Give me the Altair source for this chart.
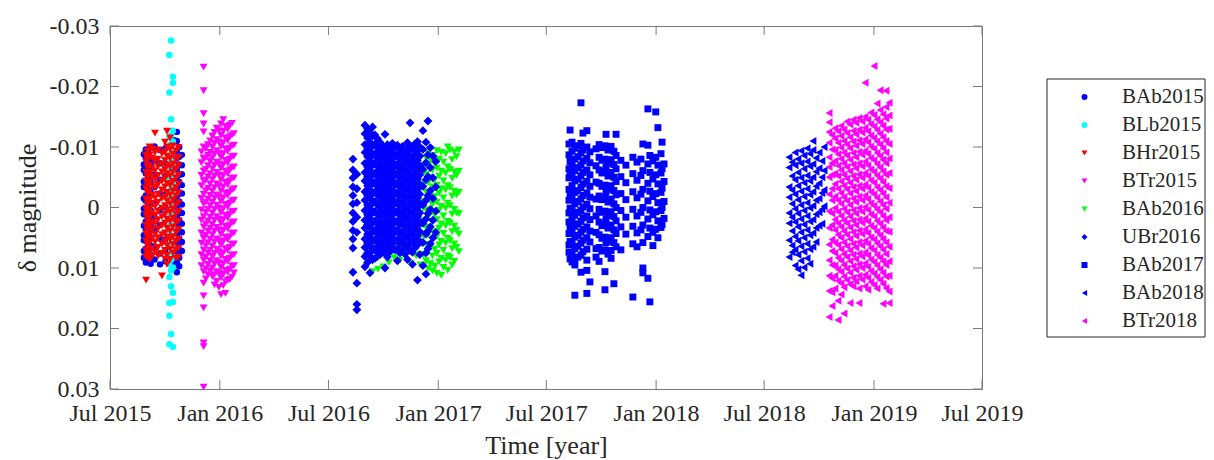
import altair as alt
import pandas as pd

# ---------------- data ----------------
# observation nights (decimal year) and delta magnitudes per night (millimag)
BAb2015_t = [2015.651, 2015.660, 2015.670, 2015.682, 2015.700, 2015.725, 2015.750,
             2015.790, 2015.802, 2015.813, 2015.825]
BAb2015_m = [
    [-8.8, -7.1, -6.2, -4.3, -3.4, -1.5, 0.2, 1.1, 3.0, 4.6, 5.4, 7.2, 8.3],
    [-9.6, -8.3, -6.5, -5.6, -3.8, -2.0, -1.1, 0.7, 2.3, 3.5, 5.0, 6.8, 7.7, 9.1],
    [-9.2, -7.5, -6.6, -4.8, -3.0, -2.2, -0.3, 1.4, 2.6, 4.1, 5.9, 7.0, 8.7],
    [-9.9, -8.0, -7.2, -5.3, -4.1, -2.5, -0.8, 0.5, 2.0, 3.1, 4.9, 6.3, 7.8, 9.3],
    [-10.1, -7.8, -5.5, -3.4, -0.7, 1.6, 3.7, 6.5, 8.6],
    [-9.5, -7.3, -4.6, -2.3, 0.4, 2.9, 5.1, 7.6, 9.4],
    [-9.8, -7.4, -5.2, -2.2, 0.0, 2.5, 5.3, 7.2, 8.9],
    [-11.1, -9.3, -7.6, -6.2, -4.4, -3.1, -1.3, 0.0, 1.8, 3.0, 4.9, 6.1, 7.9, 9.5],
    [-12.5, -11.0, -9.4, -8.2, -6.3, -5.0, -3.2, -1.9, -0.1, 1.4, 2.8, 4.6, 5.9, 7.4, 9.1, 10.7],
    [-10.0, -8.4, -7.1, -5.4, -4.2, -2.3, -1.0, 0.8, 2.1, 3.9, 5.2, 7.0, 8.3, 9.7],
    [-8.7, -7.0, -5.5, -3.7, -2.3, -0.5, 0.9, 2.7, 4.1, 5.7, 7.2],
]

BLb2015_t = [2015.768, 2015.776, 2015.784]
BLb2015_m = [
    [-25.2, -19.0, -11.6, -9.9, -8.1, -6.4, -4.5, -2.7, -0.9, 0.8, 2.6, 4.3, 6.1, 7.8, 9.4, 11.5, 15.8, 17.9, 22.6],
    [-27.6, -14.6, -12.0, -10.5, -8.8, -7.2, -5.3, -3.6, -1.8, 0.1, 1.7, 3.5, 5.2, 6.9, 8.6, 10.4, 13.0, 20.9],
    [-21.6, -20.6, -12.7, -10.9, -9.3, -7.6, -5.8, -4.1, -2.3, -0.5, 1.2, 3.0, 4.7, 6.5, 8.2, 9.9, 14.1, 15.6, 23.0],
]

BHr2015_t = [2015.661, 2015.668, 2015.677, 2015.688, 2015.702, 2015.716, 2015.734,
             2015.748, 2015.757, 2015.771, 2015.784, 2015.798, 2015.810]
BHr2015_m = [
    [-8.6, -7.5, -5.8, -4.4, -3.1, -1.4, 0.1, 1.2, 2.9, 4.3, 5.5, 7.1, 8.2, 12.0],
    [-9.3, -7.9, -6.6, -5.0, -3.5, -2.4, -0.6, 0.8, 2.2, 3.8, 5.0, 6.4, 7.9],
    [-10.0, -8.6, -7.0, -5.7, -4.2, -2.7, -1.3, 0.3, 1.6, 3.1, 4.6, 5.9, 7.4, 8.6],
    [-9.7, -8.2, -6.5, -5.1, -3.6, -2.0, -0.7, 0.9, 2.4, 3.7, 5.2, 6.8, 8.1],
    [-12.3, -9.1, -7.7, -6.1, -4.6, -3.3, -1.6, -0.2, 1.3, 2.7, 4.4, 5.7, 7.3],
    [-9.5, -8.0, -6.8, -5.3, -3.8, -2.2, -0.9, 0.6, 2.0, 3.5, 5.0, 6.6, 8.0],
    [-8.9, -7.2, -5.9, -4.4, -2.9, -1.5, 0.1, 1.5, 3.0, 4.5, 6.0, 7.6, 11.3],
    [-10.8, -9.2, -7.8, -6.3, -4.9, -3.4, -1.8, -0.3, 1.1, 2.6, 4.2, 5.6, 7.1, 8.5],
    [-12.6, -10.0, -8.5, -7.0, -5.6, -4.0, -2.5, -1.1, 0.4, 1.9, 3.4, 4.9, 6.3, 7.9, 9.4],
    [-11.5, -9.6, -8.1, -6.7, -5.2, -3.7, -2.1, -0.6, 0.8, 2.3, 3.9, 5.3, 6.9, 8.6],
    [-10.2, -8.8, -7.2, -5.8, -4.3, -2.8, -1.3, 0.2, 1.7, 3.2, 4.8, 6.1, 7.5],
    [-9.4, -7.9, -6.4, -4.9, -3.3, -1.9, -0.4, 1.1, 2.5, 4.1, 5.6, 7.0, 8.4],
    [-9.9, -8.3, -6.9, -5.4, -3.9, -2.4, -0.8, 0.7, 2.2, 3.6, 5.2, 6.7, 8.2],
]

BTr2015_t = [2015.915, 2015.925, 2015.935, 2015.945, 2015.955, 2015.965, 2015.975, 2015.985,
             2015.995, 2016.005, 2016.015, 2016.025, 2016.035, 2016.045, 2016.055, 2016.064]
BTr2015_m = [
    [-9.2, -7.4, -5.3, -3.6, -1.5, 0.4, 2.1, 4.2, 5.9, 7.8, 9.6],
    [-23.2, -19.3, -15.5, -13.8, -12.5, -10.0, -8.1, -6.0, -4.4, -2.2, -0.6, 1.5, 3.2, 5.1, 7.0,
     8.7, 10.6, 12.5, 14.6, 16.6, 22.4, 23.0, 29.7],
    [-9.7, -8.2, -6.3, -4.5, -2.8, -0.9, 0.8, 2.7, 4.6, 6.3, 8.2, 10.1, 11.8],
    [-10.4, -8.6, -6.9, -5.1, -3.2, -1.4, 0.3, 2.2, 3.9, 5.8, 7.5, 9.4, 11.1],
    [-11.0, -9.1, -7.6, -5.6, -3.9, -2.0, -0.3, 1.6, 3.4, 5.2, 7.1, 8.8, 10.5],
    [-11.8, -10.0, -8.2, -6.4, -4.6, -2.7, -0.9, 0.9, 2.8, 4.5, 6.4, 8.1, 10.0, 11.4],
    [-12.4, -10.6, -8.8, -7.0, -5.2, -3.3, -1.6, 0.3, 2.1, 3.9, 5.7, 7.6, 9.3, 11.1, 12.8],
    [-13.1, -11.2, -9.4, -7.5, -5.8, -3.9, -2.1, -0.4, 1.5, 3.3, 5.2, 6.9, 8.8, 10.6, 12.2],
    [-12.7, -10.8, -9.0, -7.2, -5.4, -3.6, -1.8, 0.1, 1.9, 3.7, 5.5, 7.3, 9.1, 10.9, 13.2],
    [-13.8, -11.9, -10.1, -8.3, -6.5, -4.6, -2.8, -1.0, 0.8, 2.6, 4.4, 6.2, 8.0, 9.9, 11.6, 14.4],
    [-14.5, -12.6, -10.7, -8.9, -7.1, -5.3, -3.4, -1.6, 0.2, 2.0, 3.8, 5.6, 7.5, 9.3, 11.0, 12.9],
    [-13.4, -11.5, -9.7, -7.8, -6.0, -4.2, -2.4, -0.5, 1.3, 3.1, 4.9, 6.8, 8.6, 10.4, 12.3, 14.2],
    [-12.9, -11.1, -9.3, -7.4, -5.6, -3.8, -2.0, -0.1, 1.7, 3.5, 5.3, 7.1, 8.9, 10.7, 12.0],
    [-13.6, -11.7, -9.8, -8.0, -6.2, -4.4, -2.5, -0.7, 1.1, 2.9, 4.8, 6.6, 8.4, 10.2, 11.9],
    [-13.9, -12.0, -10.2, -8.4, -6.6, -4.8, -2.9, -1.1, 0.7, 2.5, 4.3, 6.1, 7.9, 9.7, 11.5],
    [-12.2, -10.3, -8.5, -6.7, -4.9, -3.1, -1.2, 0.6, 2.4, 4.2, 6.0, 7.8, 9.6, 10.8],
]

BAb2016_t = [2016.700, 2016.725, 2016.750, 2016.775, 2016.800, 2016.825, 2016.850, 2016.875,
             2016.900, 2016.920, 2016.935, 2016.945, 2016.955, 2016.965, 2016.975, 2016.985,
             2016.995, 2017.005, 2017.015, 2017.025, 2017.035, 2017.045, 2017.055, 2017.065,
             2017.075, 2017.085, 2017.096]
BAb2016_m = [
    [4.5, 6.8, 8.9, 10.6],
    [3.9, 6.1, 8.4, 10.2],
    [-6.5, 5.2, 7.6, 9.8],
    [-7.8, 4.8, 7.0, 9.1],
    [-8.5, -5.9, 5.7, 8.3],
    [-9.0, -6.1, 6.6, 8.7],
    [-8.2, -5.0, 4.9, 7.4],
    [-7.1, -3.8, 6.0, 9.3],
    [-8.8, -2.6, 1.8, 5.5, 8.0],
    [-6.9, -3.2, 0.9, 4.4, 7.7, 9.5],
    [-6.8, -3.9, -1.0, 2.2, 4.9, 7.8, 9.6],
    [-8.2, -5.5, -2.6, 0.4, 3.3, 6.1, 8.8],
    [-9.0, -6.9, -4.1, -1.3, 1.6, 4.5, 7.2, 10.1],
    [-7.8, -5.0, -2.2, 0.8, 3.7, 6.4, 9.3],
    [-8.6, -6.2, -3.4, -0.5, 2.4, 5.3, 8.0, 10.5],
    [-7.3, -4.6, -1.8, 1.2, 4.0, 6.9, 9.7],
    [-9.4, -6.5, -3.7, -0.9, 2.0, 4.8, 7.6, 10.9],
    [-8.0, -5.2, -2.4, 0.5, 3.4, 6.2, 9.0],
    [-9.1, -6.0, -3.1, -0.2, 2.7, 5.6, 8.4, 11.2],
    [-7.5, -4.4, -1.6, 1.4, 4.3, 7.1, 9.9],
    [-8.9, -5.7, -2.9, 0.1, 3.0, 5.9, 8.7],
    [-10.0, -6.7, -3.6, -0.7, 2.3, 5.1, 8.0, 10.4],
    [-9.5, -6.3, -3.3, -0.3, 2.6, 5.5, 8.3],
    [-7.9, -4.8, -1.9, 1.1, 4.0, 6.8, 9.5],
    [-9.2, -5.9, -2.7, 0.3, 3.1, 6.0, 8.9],
    [-8.4, -5.3, -2.1, 0.9, 3.8, 6.6],
    [-9.5, -6.0, -2.5, 1.0, 4.4, 7.3],
]

UBr2016_t = [2016.610, 2016.628, 2016.665, 2016.677, 2016.688, 2016.700, 2016.711, 2016.722,
             2016.734, 2016.745, 2016.757, 2016.768, 2016.780, 2016.791, 2016.803, 2016.814,
             2016.826, 2016.837, 2016.849, 2016.860, 2016.872, 2016.883, 2016.894, 2016.906,
             2016.917, 2016.931, 2016.945, 2016.954, 2016.965, 2016.977, 2016.990]
UBr2016_m = [
    [-8.0, -6.2, -4.9, -3.4, -2.0, -0.6, 0.9, 2.3, 3.8, 5.2, 6.7, 10.7],
    [-5.5, -3.1, -0.8, 1.6, 4.1, 12.5, 16.0, 16.9],
    [-13.6, -12.2, -10.4, -9.1, -7.3, -5.8, -4.4, -2.6, -1.2, 0.5, 2.1, 3.4, 5.2, 6.6, 8.1, 9.8],
    [-13.0, -11.5, -9.8, -8.4, -6.7, -5.1, -3.6, -2.0, -0.4, 1.2, 2.8, 4.4, 5.9, 7.5, 9.1],
    [-12.4, -10.8, -9.3, -7.7, -6.1, -4.6, -2.9, -1.5, 0.2, 1.8, 3.3, 4.9, 6.4, 8.0, 10.8],
    [-13.3, -11.8, -10.2, -8.6, -7.0, -5.4, -3.9, -2.3, -0.7, 0.9, 2.5, 4.0, 5.6, 7.1, 8.6],
    [-12.0, -10.5, -8.9, -7.4, -5.7, -4.2, -2.6, -1.0, 0.6, 2.2, 3.7, 5.3, 6.8, 8.4],
    [-11.4, -9.9, -8.3, -6.8, -5.2, -3.6, -2.1, -0.5, 1.1, 2.7, 4.3, 5.8, 7.4],
    [-10.8, -9.3, -7.8, -6.2, -4.7, -3.1, -1.6, 0.0, 1.6, 3.2, 4.7, 6.3, 7.8],
    [-10.2, -8.7, -7.1, -5.6, -4.0, -2.5, -0.9, 0.7, 2.3, 3.8, 5.4, 6.9],
    [-12.1, -9.6, -8.1, -6.5, -5.0, -3.4, -1.9, -0.3, 1.3, 2.9, 4.4, 6.0, 7.5, 10.0],
    [-10.4, -8.9, -7.4, -5.8, -4.3, -2.7, -1.2, 0.4, 2.0, 3.5, 5.1, 6.6, 8.2],
    [-9.8, -8.3, -6.7, -5.2, -3.6, -2.1, -0.5, 1.0, 2.6, 4.2, 5.7, 7.3],
    [-10.6, -9.0, -7.5, -5.9, -4.4, -2.8, -1.3, 0.3, 1.9, 3.4, 5.0, 6.5],
    [-9.9, -8.4, -6.8, -5.3, -3.7, -2.2, -0.6, 0.9, 2.5, 4.1, 5.6, 7.0],
    [-10.3, -8.8, -7.2, -5.6, -4.1, -2.5, -1.0, 0.6, 2.2, 3.7, 5.3, 6.8, 8.8],
    [-9.6, -8.0, -6.5, -4.9, -3.4, -1.8, -0.3, 1.3, 2.8, 4.4, 5.9, 7.5],
    [-10.1, -8.6, -7.0, -5.5, -3.9, -2.4, -0.8, 0.7, 2.3, 3.9, 5.4, 7.0],
    [-9.4, -7.9, -6.3, -4.8, -3.2, -1.7, -0.1, 1.4, 3.0, 4.6, 6.1, 7.7],
    [-10.7, -9.2, -7.6, -6.1, -4.5, -3.0, -1.4, 0.2, 1.7, 3.3, 4.8, 6.4, 8.6],
    [-14.0, -10.0, -8.5, -6.9, -5.4, -3.8, -2.3, -0.7, 0.8, 2.4, 4.0, 5.5, 7.1],
    [-9.7, -8.1, -6.6, -5.0, -3.5, -1.9, -0.4, 1.2, 2.7, 4.3, 5.8, 7.4, 9.4],
    [-10.5, -8.9, -7.4, -5.8, -4.3, -2.7, -1.1, 0.4, 2.0, 3.5, 5.1, 6.7],
    [-10.9, -9.4, -7.8, -6.3, -4.7, -3.1, -1.6, 0.0, 1.5, 3.1, 4.7, 6.2, 12.0],
    [-10.0, -8.5, -6.9, -5.4, -3.8, -2.2, -0.7, 0.9, 2.4, 4.0, 5.6, 7.8],
    [-12.7, -9.6, -6.3, -3.5, -0.4, 2.6, 5.8, 9.6],
    [-10.8, -7.4, -4.6, -1.2, 1.9, 4.4, 7.5, 11.0],
    [-14.3, -8.7, -5.1, -2.0, 1.0, 3.9, 6.8],
    [-9.9, -6.6, -2.8, 0.3, 3.2, 6.0],
    [-8.5, -4.9, -1.5, 2.1, 5.0],
    [-7.6, -3.4, 0.6, 4.1],
]

BAb2017_t = [2017.601, 2017.606, 2017.615, 2017.628, 2017.642, 2017.656, 2017.665, 2017.683,
             2017.697, 2017.725, 2017.739, 2017.752, 2017.766, 2017.771, 2017.780, 2017.794,
             2017.807, 2017.817, 2017.839, 2017.862, 2017.894, 2017.913, 2017.931, 2017.940,
             2017.963, 2017.972, 2017.986, 2017.999, 2018.009, 2018.023, 2018.028, 2018.037]
BAb2017_m = [
    [-10.5, -8.7, -6.4, -4.9, -3.0, -1.2, 0.9, 2.4, 4.3, 6.2, 7.4],
    [-12.8, -7.6, -5.5, -2.1, 0.1, 3.3, 5.6, 8.5],
    [-10.8, -9.3, -7.2, -5.1, -3.6, -1.5, 0.4, 2.0, 4.0, 5.8, 7.7, 9.0],
    [-9.8, -8.0, -6.1, -4.4, -2.5, -0.6, 1.3, 3.1, 4.9, 6.8, 8.6, 9.5, 14.5],
    [-10.2, -8.4, -6.6, -4.7, -2.8, -1.0, 0.8, 2.7, 4.6, 6.4, 8.2],
    [-17.3, -10.6, -9.0, -7.0, -5.2, -3.3, -1.4, 0.5, 2.3, 4.1, 5.9, 7.9, 10.7],
    [-12.3, -9.5, -7.7, -5.8, -3.9, -2.0, -0.1, 1.7, 3.6, 5.4, 7.3],
    [-12.7, -10.0, -8.1, -6.2, -4.3, -2.4, -0.5, 1.4, 3.2, 5.0, 6.9, 8.7, 10.4, 14.2],
    [-9.2, -7.4, -5.4, -3.5, -1.7, 0.2, 2.0, 3.9, 5.7, 12.3],
    [-9.7, -6.9, -4.2, -1.4, 1.4, 4.1, 6.8, 8.2],
    [-10.4, -8.3, -6.2, -4.0, -1.9, 0.3, 2.4, 4.5, 6.6, 8.9],
    [-9.9, -7.8, -5.7, -3.5, -1.3, 0.8, 3.0, 5.1, 7.2],
    [-10.2, -8.0, -5.9, -3.7, -1.6, 0.6, 2.7, 4.9, 7.0, 10.6, 13.6],
    [-12.1, -6.7, -2.6, 1.9, 5.8],
    [-9.5, -7.3, -5.2, -3.0, -0.9, 1.3, 3.4, 5.6, 7.7],
    [-10.1, -7.9, -5.8, -3.6, -1.4, 0.7, 2.9, 5.0, 7.1, 8.4],
    [-9.3, -7.1, -5.0, -2.8, -0.6, 1.5, 3.7, 5.8, 12.6],
    [-12.1, -8.6, -6.4, -4.3, -2.1, 0.0, 2.2, 4.3, 6.5],
    [-7.8, -5.1, -2.3, 0.5, 3.2, 7.0],
    [-7.0, -4.1, -1.3, 1.6, 4.4],
    [-8.3, -5.6, -2.6, 0.3, 3.1, 6.0, 14.8],
    [-7.5, -4.5, -1.6, 1.4, 4.2, 6.5],
    [-8.0, -5.3, -2.2, 0.8, 3.7],
    [-10.5, -6.1, -3.0, 0.0, 2.9, 5.8, 10.0, 10.8],
    [-16.3, -10.3, -7.2, -4.0, -1.1, 1.9, 4.8, 11.7],
    [-8.6, -5.8, -2.7, 0.4, 3.4, 15.6],
    [-7.7, -4.7, -1.8, 1.2, 4.1, 6.3],
    [-15.8, -8.3, -5.4, -2.3, 0.7, 3.6],
    [-13.2, -7.0, -3.9, -0.8, 2.2, 5.0],
    [-8.9, -5.7, -2.5, 0.5, 3.3],
    [-10.8, -6.4, -3.2, 0.0, 2.8],
    [-7.2, -4.3, -1.0, 1.8],
]

BAb2018_t = [2018.610, 2018.624, 2018.638, 2018.651, 2018.665, 2018.679, 2018.693,
             2018.706, 2018.720, 2018.734, 2018.748, 2018.761, 2018.771]
BAb2018_m = [
    [-8.3, -6.6, -3.4, -1.7, 0.9, 2.6, 5.4, 8.2],
    [-7.5, -5.2, -2.9, -0.6, 1.6, 3.9, 6.3, 7.4],
    [-9.1, -7.0, -4.6, -2.2, 0.2, 2.4, 4.8, 7.0, 9.6],
    [-8.0, -5.8, -3.6, -1.3, 1.0, 3.2, 5.5, 7.8, 10.2],
    [-9.4, -7.3, -4.9, -2.7, -0.4, 1.9, 4.1, 6.4, 8.8, 11.2],
    [-8.6, -6.4, -4.1, -1.8, 0.5, 2.8, 5.0, 7.3, 9.9],
    [-9.8, -7.6, -5.3, -3.1, -0.8, 1.4, 3.7, 6.0, 8.4],
    [-8.9, -6.8, -4.4, -2.1, 0.1, 2.3, 4.6, 6.9, 9.3],
    [-11.0, -9.5, -7.2, -5.0, -2.6, -0.3, 2.0, 4.2, 6.5],
    [-8.2, -5.9, -3.5, -1.2, 1.1, 3.4, 5.7],
    [-9.1, -6.5, -4.0, -1.5, 0.8, 3.0],
    [-7.7, -5.0, -2.4, 0.3, 2.7],
    [-10.0, -6.1, -2.9, -0.2],
]

BTr2018_t = [2018.794, 2018.807, 2018.821, 2018.835, 2018.849, 2018.862, 2018.876, 2018.890,
             2018.904, 2018.917, 2018.931, 2018.945, 2018.959, 2018.972, 2018.986, 2019.000,
             2019.014, 2019.028, 2019.041, 2019.055, 2019.069]
BTr2018_m = [
    [-15.6, -14.1, -12.5, -10.7, -8.3, -6.7, -5.0, -2.2, 0.6, 3.4, 6.1, 8.7, 11.3, 13.8, 18.1],
    [-12.0, -9.6, -7.3, -5.4, -3.1, -1.2, 1.0, 2.9, 5.3, 7.2, 9.5, 11.7, 14.0, 16.3],
    [-13.1, -11.4, -9.5, -7.7, -5.6, -3.9, -1.8, 0.1, 2.0, 3.7, 5.8, 7.5, 9.6, 11.3, 13.4],
    [-12.6, -10.7, -8.8, -6.9, -5.2, -3.1, -1.2, 0.7, 2.6, 4.5, 6.2, 8.3, 10.2, 12.1, 15.4, 18.6],
    [-13.5, -11.8, -9.9, -8.0, -6.2, -4.3, -2.4, -0.6, 1.4, 3.2, 5.0, 6.9, 8.8, 10.6, 12.5, 14.4],
    [-12.9, -11.0, -9.1, -7.3, -5.4, -3.6, -1.7, 0.2, 2.1, 3.9, 5.8, 7.7, 9.5, 11.4, 13.2, 17.5],
    [-14.2, -12.3, -10.4, -8.6, -6.7, -4.8, -3.0, -1.1, 0.8, 2.6, 4.5, 6.4, 8.2, 10.1, 12.0],
    [-13.7, -11.6, -9.8, -7.9, -6.0, -4.1, -2.3, -0.4, 1.5, 3.3, 5.2, 7.1, 8.9, 10.8, 12.7, 15.8],
    [-14.5, -12.7, -10.9, -9.0, -7.1, -5.2, -3.4, -1.5, 0.4, 2.2, 4.1, 6.0, 7.8, 9.7, 11.6, 13.0],
    [-14.0, -12.1, -10.2, -8.3, -6.5, -4.6, -2.7, -0.9, 1.0, 2.9, 4.7, 6.6, 8.5, 10.3, 12.2],
    [-14.8, -12.9, -11.1, -9.2, -7.3, -5.5, -3.6, -1.8, 0.1, 2.0, 3.8, 5.7, 7.6, 9.4, 11.3, 13.4, 15.8],
    [-14.2, -12.4, -10.5, -8.7, -6.8, -4.9, -3.1, -1.2, 0.7, 2.5, 4.4, 6.3, 8.1, 10.0, 11.9],
    [-20.6, -15.0, -13.2, -11.3, -9.4, -7.6, -5.7, -3.8, -2.0, -0.1, 1.8, 3.6, 5.5, 7.4, 9.2, 11.1, 13.0],
    [-14.5, -12.6, -10.8, -8.9, -7.0, -5.2, -3.3, -1.4, 0.4, 2.3, 4.2, 6.0, 7.9, 9.8, 11.6, 13.6],
    [-15.7, -13.8, -11.9, -10.1, -8.2, -6.3, -4.5, -2.6, -0.7, 1.1, 3.0, 4.9, 6.7, 8.6, 10.5, 12.3],
    [-23.4, -15.3, -13.4, -11.5, -9.7, -7.8, -5.9, -4.1, -2.2, -0.3, 1.5, 3.4, 5.3, 7.1, 9.0, 10.9, 12.8],
    [-17.2, -14.6, -12.8, -10.9, -9.0, -7.2, -5.3, -3.4, -1.6, 0.3, 2.2, 4.0, 5.9, 7.8, 9.6, 11.5, 13.4],
    [-19.4, -16.1, -14.1, -12.2, -10.4, -8.5, -6.6, -4.8, -2.9, -1.0, 0.8, 2.7, 4.6, 6.4, 8.3, 10.2, 12.0],
    [-15.4, -13.5, -11.6, -9.8, -7.9, -6.0, -4.2, -2.3, -0.4, 1.4, 3.3, 5.2, 7.0, 8.9, 10.8, 12.6, 15.9],
    [-19.3, -16.6, -14.7, -12.9, -11.0, -9.1, -7.3, -5.4, -3.5, -1.7, 0.2, 2.1, 3.9, 5.8, 7.7, 9.5, 11.4, 13.3],
    [-17.3, -15.2, -13.0, -10.5, -8.1, -5.7, -3.2, -0.8, 1.6, 4.0, 6.5, 8.9, 11.3, 13.9, 15.8],
]

series_names = ["BAb2015", "BLb2015", "BHr2015", "BTr2015", "BAb2016",
                "UBr2016", "BAb2017", "BAb2018", "BTr2018"]
series_times = [BAb2015_t, BLb2015_t, BHr2015_t, BTr2015_t, BAb2016_t,
                UBr2016_t, BAb2017_t, BAb2018_t, BTr2018_t]
series_mags = [BAb2015_m, BLb2015_m, BHr2015_m, BTr2015_m, BAb2016_m,
               UBr2016_m, BAb2017_m, BAb2018_m, BTr2018_m]

x_tick_dates = ["2015-07-01", "2016-01-01", "2016-07-01", "2017-01-01", "2017-07-01",
                "2018-01-01", "2018-07-01", "2019-01-01", "2019-07-01"]
y_tick_values = [-0.03, -0.02, -0.01, 0.0, 0.01, 0.02, 0.03]

# ---------------- styles ----------------
series_colors = ["#0000ff", "#00ffff", "#ff0000", "#ff00ff", "#00ff00",
                 "#0000ff", "#0000ff", "#0000ff", "#ff00ff"]
series_shapes = ["circle", "circle", "triangle-down", "triangle-down", "triangle-down",
                 "diamond", "square", "triangle-left", "triangle-left"]
series_sizes = [42, 42, 62, 62, 62, 78, 48, 64, 64]

FONT = "Liberation Serif"
TXT = "#262626"
AXC = "#7a7a7a"
W, H = 872, 363
TICK = 9

# ---------------- build table ----------------
T0 = pd.Timestamp("2015-01-01", tz="UTC")


def year_to_ms(y):
    return int((T0 + pd.to_timedelta((y - 2015.0) * 365.25, unit="D")).value // 10**6)


rows = []
for name, sz, ts, ms in zip(series_names, series_sizes, series_times, series_mags):
    for t, vals in zip(ts, ms):
        for v in vals:
            rows.append({"series": name, "t": year_to_ms(t), "m": v / 1000.0, "sz": sz})
df = pd.DataFrame(rows)

x_tick_ms = [int(pd.Timestamp(d, tz="UTC").value // 10**6) for d in x_tick_dates]

x_scale = alt.Scale(type="utc", domain=[x_tick_ms[0], x_tick_ms[-1]])
y_scale = alt.Scale(domain=[-0.03, 0.03], reverse=True, nice=False, zero=False)

x_axis = alt.Axis(
    values=x_tick_ms, format="%b %Y", labelFlush=False, labelOverlap=False,
    labelFontSize=24, labelPadding=12,
    title="Time [year]", titleFontSize=26, titleX=436, titleY=64,
    titleBaseline="alphabetic", titleAlign="center")
y_axis = alt.Axis(
    values=y_tick_values, labelOverlap=False, labelFlush=False,
    labelExpr="datum.value == 0 ? '0' : (datum.value < 0 ? '-' : '') + format(abs(datum.value), '.2f')",
    labelFontSize=24, labelPadding=11,
    title="δ magnitude", titleFontSize=26, titleX=-83, titleY=181.5,
    titleAngle=270, titleBaseline="middle", titleAlign="center")

legend = alt.Legend(
    title=None, orient="none", legendX=964, legendY=60.5, padding=0,
    labelFont=FONT, labelFontSize=21, labelColor=TXT, labelOffset=27,
    symbolSize=36, symbolStrokeWidth=0, rowPadding=6, labelLimit=300,
)

points = alt.Chart(df).mark_point(filled=True, opacity=1, strokeWidth=0).encode(
    x=alt.X("t:T", scale=x_scale, axis=x_axis),
    y=alt.Y("m:Q", scale=y_scale, axis=y_axis),
    color=alt.Color("series:N", scale=alt.Scale(domain=series_names, range=series_colors), legend=legend),
    shape=alt.Shape("series:N", scale=alt.Scale(domain=series_names, range=series_shapes), legend=legend),
    size=alt.Size("sz:Q", scale=None, legend=None),
)

xt = pd.DataFrame({"t": x_tick_ms})
yt = pd.DataFrame({"m": y_tick_values})
tick_style = dict(color=AXC, strokeWidth=1)

x_ticks_bottom = alt.Chart(xt).mark_rule(**tick_style).encode(
    x=alt.X("t:T", scale=x_scale, axis=x_axis), y=alt.value(H), y2=alt.value(H - TICK))
x_ticks_top = alt.Chart(xt).mark_rule(**tick_style).encode(
    x=alt.X("t:T", scale=x_scale, axis=x_axis), y=alt.value(0), y2=alt.value(TICK))
y_ticks_left = alt.Chart(yt).mark_rule(**tick_style).encode(
    y=alt.Y("m:Q", scale=y_scale, axis=y_axis), x=alt.value(0), x2=alt.value(TICK))
y_ticks_right = alt.Chart(yt).mark_rule(**tick_style).encode(
    y=alt.Y("m:Q", scale=y_scale, axis=y_axis), x=alt.value(W), x2=alt.value(W - TICK))

legend_box = alt.Chart(pd.DataFrame({"k": [0]})).mark_rect(
    fill="white", stroke=TXT, strokeWidth=1).encode(
    x=alt.value(937), x2=alt.value(1095), y=alt.value(53), y2=alt.value(311))

chart = alt.layer(
    points, x_ticks_bottom, x_ticks_top, y_ticks_left, y_ticks_right, legend_box
).properties(
    width=W, height=H,
    autosize=alt.AutoSizeParams(type="none"),
    padding={"left": 102, "top": 18, "right": 224, "bottom": 71},
    background="white",
).configure_view(
    stroke=AXC, strokeWidth=1
).configure_axis(
    grid=False, domain=False, ticks=False,
    labelFont=FONT, titleFont=FONT, labelColor=TXT, titleColor=TXT,
    titleFontWeight="normal",
)

chart.save("out.html", embed_options={"renderer": "svg", "actions": False})
